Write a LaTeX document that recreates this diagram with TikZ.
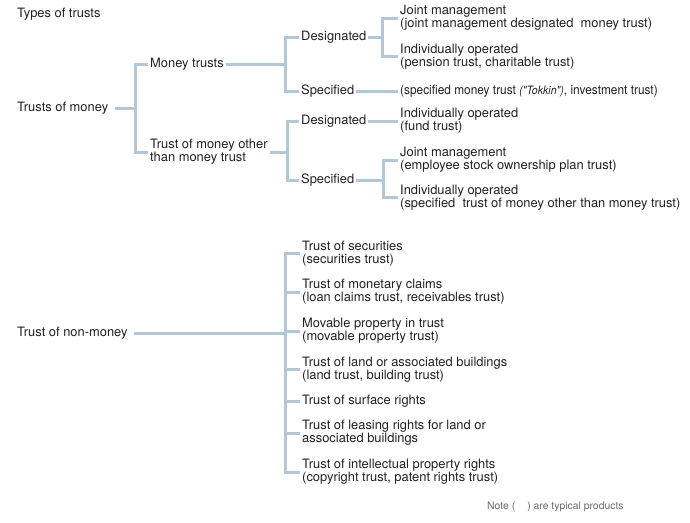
\documentclass[tikz,border=0pt]{standalone}
\usepackage{fontspec}
\setmainfont{TeX Gyre Heros}
\newfontfamily\narrowfont[FakeStretch=0.92]{TeX Gyre Heros}
\usetikzlibrary{positioning}
\definecolor{linkblue}{RGB}{178,200,215}
\definecolor{inkblack}{RGB}{35,31,32}
\definecolor{notegray}{RGB}{105,105,105}

\begin{document}
\begin{tikzpicture}[x=1pt,y=-1pt,
    box/.style={anchor=west,inner sep=2pt,align=left,text=inkblack,
      font=\fontsize{12.9}{13}\selectfont},
    link/.style={draw=linkblue,line width=3pt}]
  \useasboundingbox (0,0) rectangle (690,522);
  % heading
  \node[box] (title) at (15,14) {Types of trusts};
  % trusts of money
  \node[box] (money) at (15,108) {Trusts of money};
  \node[box] (mt) at (148,64) {Money trusts};
  \node[box] (other) at (148,152) {Trust of money other\\than money trust};
  \node[box] (des1) at (299,37) {Designated};
  \node[box] (spec1) at (299,91) {Specified};
  \node[box] (joint1) at (398,18) {Joint management\\(joint management designated\ \ money trust)};
  \node[box] (indiv1) at (398,56.5) {Individually operated\\(pension trust, charitable trust)};
  \node[box,font=\narrowfont\fontsize{12.9}{13}\selectfont] (tokkin) at (398,91)
    {(specified money trust {\fontsize{11.5}{13}\selectfont\itshape("Tokkin")}, investment trust)};
  \node[box] (des2) at (299,121) {Designated};
  \node[box] (spec2) at (299,180) {Specified};
  \node[box] (fund) at (398,121) {Individually operated\\(fund trust)};
  \node[box] (joint2) at (398,160) {Joint management\\(employee stock ownership plan trust)};
  \node[box] (indiv2) at (398,197.5) {Individually operated\\(specified\ \ trust of money other than money trust)};
  % brackets
  \coordinate (b1) at (135,108);
  \coordinate (b2) at (285,64);
  \coordinate (b3) at (382,37);
  \coordinate (b4) at (287,152);
  \coordinate (b5) at (383,180);
  \draw[link,shorten <=5pt] (money.east) -- (b1);
  \draw[link] (mt.west) -| (b1) |- (other.west);
  \draw[link] (mt.east) -- (b2);
  \draw[link] (des1.west) -| (b2) |- (spec1.west);
  \draw[link] (des1.east) -- (b3);
  \draw[link] (joint1.west) -| (b3) |- (indiv1.west);
  \draw[link] (spec1.east) -- (tokkin.west);
  \draw[link] (other.east) -- (b4);
  \draw[link] (des2.west) -| (b4) |- (spec2.west);
  \draw[link] (des2.east) -- (fund.west);
  \draw[link] (spec2.east) -- (b5);
  \draw[link] (joint2.west) -| (b5) |- (indiv2.west);
  % trust of non-money
  \node[box] (nonmoney) at (15,333) {Trust of non-money};
  \node[box] (sec) at (300,253.5) {Trust of securities\\(securities trust)};
  \node[box] (claim) at (300,292) {Trust of monetary claims\\(loan claims trust, receivables trust)};
  \node[box] (movable) at (300,331) {Movable property in trust\\(movable property trust)};
  \node[box] (land) at (300,369.5) {Trust of land or associated buildings\\(land trust, building trust)};
  \node[box] (surface) at (300,401) {Trust of surface rights};
  \node[box] (leasing) at (300,433) {Trust of leasing rights for land or\\associated buildings};
  \node[box] (ip) at (300,472) {Trust of intellectual property rights\\(copyright trust, patent rights trust)};
  \coordinate (b6) at (285,333);
  \draw[link,shorten <=4pt] (nonmoney.east) -- (b6);
  \draw[link] (sec.west) -| (b6) |- (ip.west);
  \foreach \n in {claim,movable,land,surface,leasing}
    \draw[link] (b6 |- \n.west) -- (\n.west);
  % note
  \node[anchor=west,inner sep=0pt,text=notegray,font=\fontsize{10.4}{11}\selectfont]
    (note) at (487,507) {Note (\hspace{12pt}) are typical products};
\end{tikzpicture}
\end{document}
